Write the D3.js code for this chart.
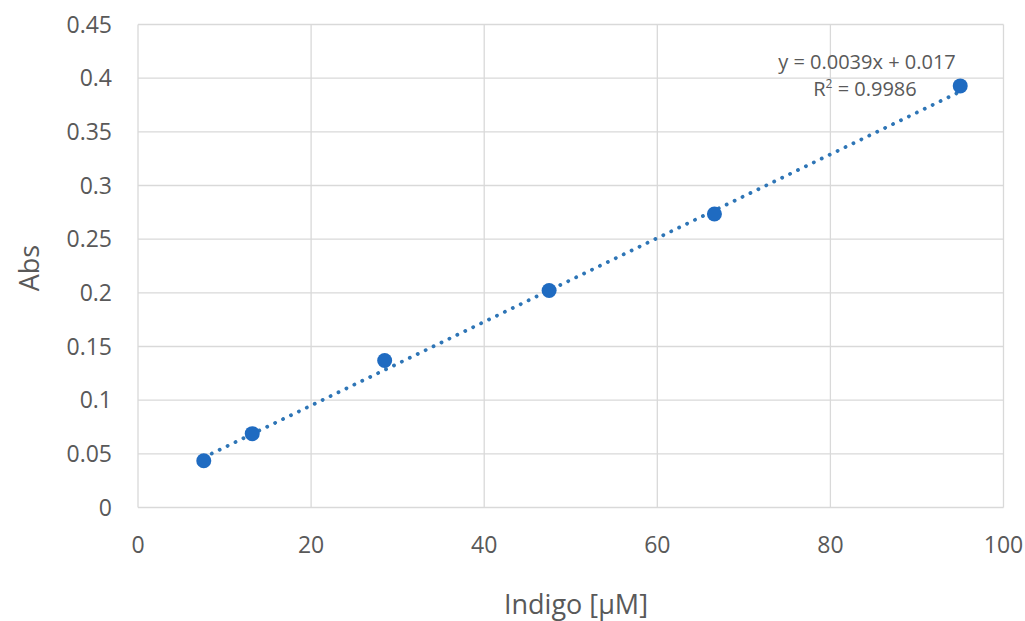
<!DOCTYPE html>
<html><head><meta charset="utf-8">
<script src="https://cdn.jsdelivr.net/npm/d3@7"></script>
<style>body{margin:0;background:#fff;} text{font-family:"Open Sans","Noto Sans",sans-serif;fill:#595959;}</style>
</head><body><svg id="c" width="1025" height="621"></svg>
<script>
const xValues = [7.6, 13.2, 28.5, 47.5, 66.6, 95.0];
const yValues = [0.0435, 0.0688, 0.1370, 0.2022, 0.2735, 0.3928];
const xTicks = [0, 20, 40, 60, 80, 100];
const yTicks = [0, 0.05, 0.1, 0.15, 0.2, 0.25, 0.3, 0.35, 0.4, 0.45];
const yTickLabels = ["0","0.05","0.1","0.15","0.2","0.25","0.3","0.35","0.4","0.45"];
const slope = 0.0039, intercept = 0.017;
const eqText = "y = 0.0039x + 0.017";
const r2Value = "0.9986";

const svg = d3.select("#c");
const x = d3.scaleLinear().domain([0,100]).range([138,1003.5]);
const y = d3.scaleLinear().domain([0,0.45]).range([507.5,24.5]);

// gridlines
svg.append("g").selectAll("line").data(yTicks).join("line")
  .attr("x1",x(0)).attr("x2",x(100)).attr("y1",d=>y(d)).attr("y2",d=>y(d))
  .attr("stroke","#d9d9d9").attr("stroke-width",1.3);
svg.append("g").selectAll("line").data(xTicks).join("line")
  .attr("y1",y(0)).attr("y2",y(0.45)).attr("x1",d=>x(d)).attr("x2",d=>x(d))
  .attr("stroke","#d9d9d9").attr("stroke-width",1.3);

// tick labels
svg.append("g").selectAll("text").data(yTicks).join("text")
  .attr("x",112).attr("y",d=>y(d)).attr("dy","0.35em").attr("text-anchor","end")
  .attr("font-size",23).text((d,i)=>yTickLabels[i]);
svg.append("g").selectAll("text").data(xTicks).join("text")
  .attr("x",d=>x(d)).attr("y",553).attr("text-anchor","middle")
  .attr("font-size",23).text(d=>d);

// axis titles
svg.append("text").attr("transform","translate(39,268) rotate(-90)")
  .attr("text-anchor","middle").attr("font-size",27).text("Abs");
svg.append("text").attr("x",576).attr("y",614).attr("text-anchor","middle")
  .attr("font-size",27).text("Indigo [µM]");

// trendline
const x0 = d3.min(xValues), x1 = d3.max(xValues);
svg.append("line")
  .attr("x1",x(x0)).attr("y1",y(slope*x0+intercept))
  .attr("x2",x(x1)).attr("y2",y(slope*x1+intercept))
  .attr("stroke","#2E75B6").attr("stroke-width",3.8)
  .attr("stroke-linecap","round").attr("stroke-dasharray","0.1 8.7");

// points
svg.append("g").selectAll("circle").data(xValues).join("circle")
  .attr("cx",d=>x(d)).attr("cy",(d,i)=>y(yValues[i])).attr("r",7.5)
  .attr("fill","#1F6BC1");

// equation
svg.append("text").attr("x",867).attr("y",69).attr("text-anchor","middle")
  .attr("font-size",20).text(eqText);
const r2 = svg.append("text").attr("x",865).attr("y",96).attr("text-anchor","middle").attr("font-size",20);
r2.append("tspan").text("R");
r2.append("tspan").attr("dy",-8).attr("font-size",12).text("2");
r2.append("tspan").attr("dy",8).text(" = " + r2Value);
</script></body></html>
